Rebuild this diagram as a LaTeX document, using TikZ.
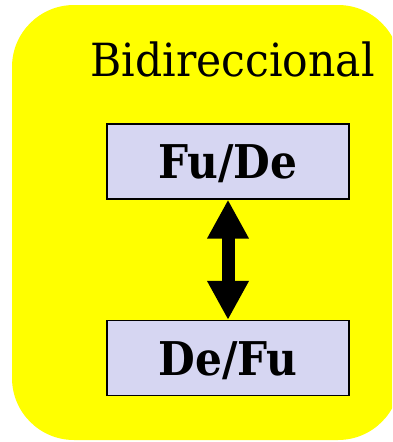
\documentclass[tikz,border=0pt]{standalone}
\usepackage{fontspec}
\setmainfont{DejaVu Serif}
\usetikzlibrary{arrows.meta}
\definecolor{boxfill}{RGB}{214,214,242}
\definecolor{backyellow}{RGB}{255,255,0}
\newcommand{\narrowtext}[2][0.91]{\scalebox{#1}[1]{#2}}

\begin{document}
\begin{tikzpicture}[x=1pt, y=-1pt,
  layerbox/.style={draw, fill=boxfill, line width=1.2pt, minimum width=242pt,
    minimum height=75pt, text height=34pt, text depth=0pt,
    font=\fontsize{46.5}{52}\selectfont\bfseries}]

\path[use as bounding box] (0, 0) rectangle (392, 442);
\clip (0, 0) rectangle (392, 442);

\fill[backyellow, rounded corners=62pt] (12, 5) rectangle (400, 440);

\node[anchor=base, font=\fontsize{45.7}{52}\selectfont] (title) at (232.5, 76) {\narrowtext[0.93]{Bidireccional}};

\node[layerbox] (fude) at (228, 161.5) {\narrowtext{Fu/De}};
\node[layerbox] (defu) at (228, 358) {\narrowtext{De/Fu}};

\draw[{Triangle[width=39pt, length=39pt]}-{Triangle[width=39pt, length=39pt]}, line width=13pt]
  (fude.south) -- (defu.north);

\end{tikzpicture}
\end{document}
